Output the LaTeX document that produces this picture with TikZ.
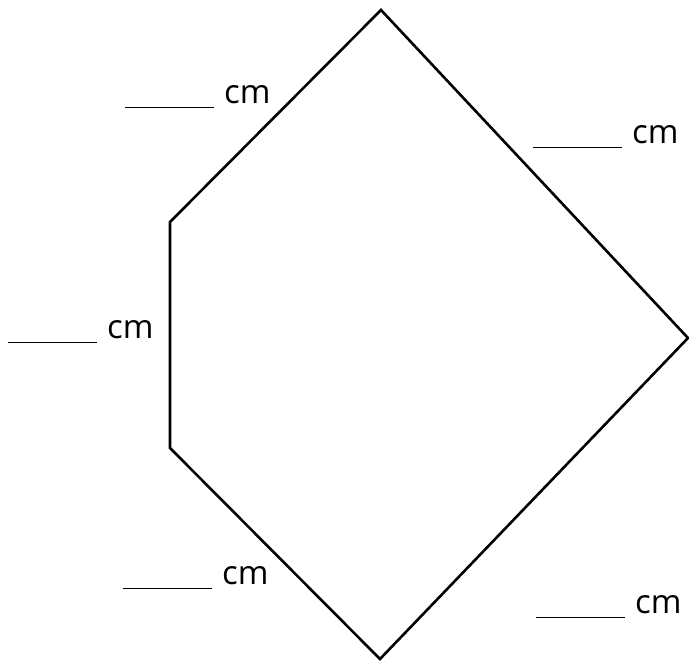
\documentclass[tikz,border=0pt]{standalone}
\usepackage{fontspec}
\setmainfont{Open Sans}
\newcommand{\blankcm}{\rule[-4.5pt]{89pt}{1.5pt}\hspace{10pt}cm}
\begin{document}
\begin{tikzpicture}[x=1pt,y=-1pt,
		lbl/.style={anchor=base west,inner sep=0pt,font=\fontsize{33}{36}\selectfont}]
				\useasboundingbox (0,0) rectangle (689,662);
				\coordinate (T) at (381,10);
				\coordinate (R) at (688,338);
				\coordinate (B) at (380,659);
				\coordinate (LB) at (170,448);
				\coordinate (LT) at (170,222);
				
				\draw[line width=2.6pt,line join=miter] (T) -- (R) -- (B) -- (LB) -- (LT) -- cycle;
				
				\node[lbl] (lT) at (125,103.5) {\blankcm};
				\node[lbl] (lR) at (533,143.5) {\blankcm};
				\node[lbl] (lL) at (8,338.5) {\blankcm};
				\node[lbl] (lRB) at (536,613.5) {\blankcm};
				\node[lbl] (lLB) at (123,584.5) {\blankcm};
			\end{tikzpicture}
\end{document}
